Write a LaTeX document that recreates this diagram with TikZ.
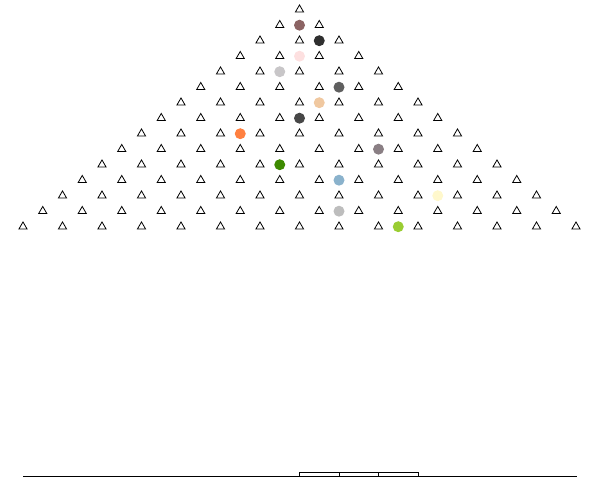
\documentclass[tikz,border=0pt]{standalone}
\usetikzlibrary{shapes.geometric}
\definecolor{c1}{HTML}{8C6464}
\definecolor{c2}{HTML}{2F2F2F}
\definecolor{c3}{HTML}{FDE0E0}
\definecolor{c4}{HTML}{C8C6C8}
\definecolor{c5}{HTML}{5F5F5F}
\definecolor{c6}{HTML}{F0C8A0}
\definecolor{c7}{HTML}{474747}
\definecolor{c8}{HTML}{FF8040}
\definecolor{c9}{HTML}{8A7F84}
\definecolor{c10}{HTML}{3D8A00}
\definecolor{c11}{HTML}{8AB2CC}
\definecolor{c12}{HTML}{FFF8CC}
\definecolor{c13}{HTML}{BDBDBD}
\definecolor{c14}{HTML}{9ACD32}
\begin{document}
\begin{tikzpicture}[x=1pt,y=-1pt,
  tri/.style={regular polygon, regular polygon sides=3, draw=black, line width=0.8pt, inner sep=0pt, minimum size=9.5pt},
  dot/.style={circle, inner sep=0pt, minimum size=11pt},
  axisline/.style={line width=0.9pt, black}]
\useasboundingbox (0,0) rectangle (600,500);
\foreach \k in {0,...,14}{
  \foreach \j in {0,...,\k}{
    \node[tri] (t-\k-\j) at ({299.5+(2*\j-\k)*19.75},{9.7+15.5*\k}) {};
  }
}
\foreach \k/\m in {1/0,2/1,3/0,4/-1,5/2,6/1,7/0,8/-3,9/4,10/-1,11/2,12/7,13/2,14/5}{
  \node[dot, fill=c\k] (c-\k) at ({299.5+\m*19.75},{9.7+15.5*\k}) {};
}
\coordinate (L) at (23,476);
\coordinate (R) at (576.5,476);
\draw[axisline] (L) -- (R);
\draw[axisline] (299.3,476) rectangle (339.3,472.5);
\draw[axisline] (339.3,476) rectangle (378.7,472.5);
\draw[axisline] (378.7,476) rectangle (418.3,472.5);
\end{tikzpicture}
\end{document}
